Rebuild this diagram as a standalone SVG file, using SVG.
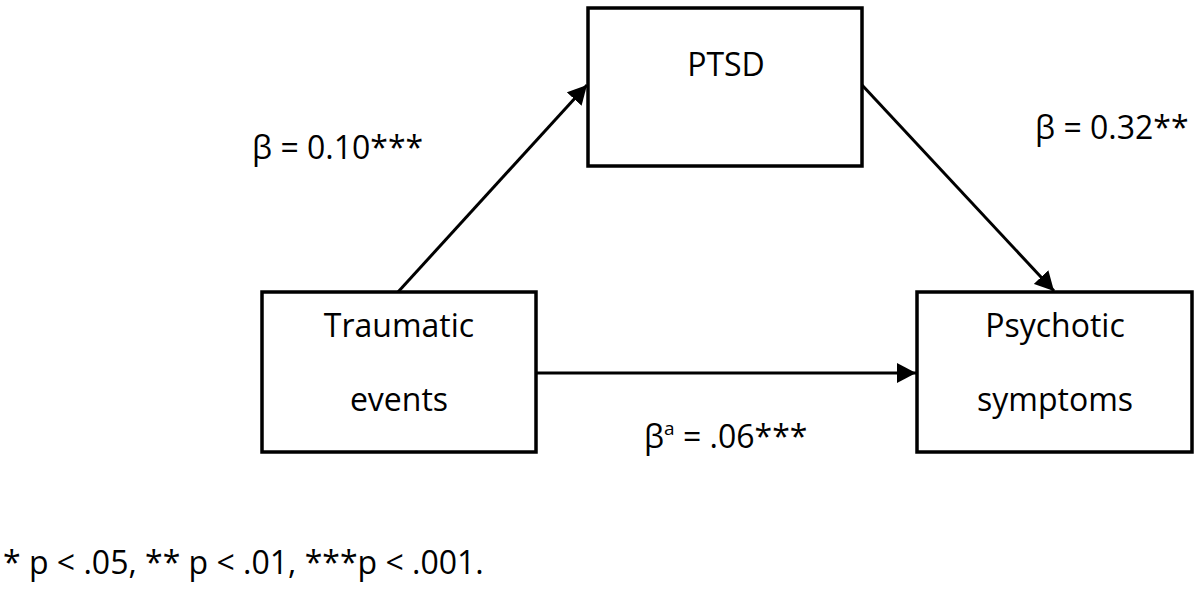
<svg xmlns="http://www.w3.org/2000/svg" width="1200" height="589" viewBox="0 0 1200 589">
<style>
.box{fill:#fff;stroke:#000;stroke-width:3.5}
.t{font-family:"Open Sans","Liberation Sans",sans-serif;font-size:32px;fill:#000}
.c{text-anchor:middle}
.e{stroke:#000;stroke-width:3;fill:none}
</style>
<defs>
<marker id="ah" viewBox="0 0 19 20" refX="19" refY="10" markerWidth="19" markerHeight="20" markerUnits="userSpaceOnUse" orient="auto">
<path d="M0,0 L19,10 L0,20 Z" fill="#000"/>
</marker>
</defs>
<rect width="1200" height="589" fill="#fff"/>
<g id="connectors">
<path class="e" d="M398,292 L587,85" marker-end="url(#ah)"/>
<path class="e" d="M862,85 L1054,291" marker-end="url(#ah)"/>
<path class="e" d="M536,373 L916,373" marker-end="url(#ah)"/>
</g>
<g id="ptsd">
<rect class="box" x="588" y="8" width="274" height="158"/>
<text class="t c" x="726" y="76">PTSD</text>
</g>
<g id="traumatic">
<rect class="box" x="262" y="292" width="274" height="160"/>
<text class="t c" x="399" y="337">Traumatic</text>
<text class="t c" x="399" y="411">events</text>
</g>
<g id="psychotic">
<rect class="box" x="917" y="292" width="275" height="160"/>
<text class="t c" x="1055" y="337">Psychotic</text>
<text class="t c" x="1055" y="411">symptoms</text>
</g>
<g id="labels">
<text class="t" x="252" y="159">β = 0.10***</text>
<text class="t" x="1035" y="139">β = 0.32**</text>
<text class="t" x="644" y="448">β<tspan dy="-13" font-size="19">a</tspan><tspan dy="13"> = .06***</tspan></text>
<text class="t" x="3" y="574">* p &lt; .05, ** p &lt; .01, ***p &lt; .001.</text>
</g>
</svg>
